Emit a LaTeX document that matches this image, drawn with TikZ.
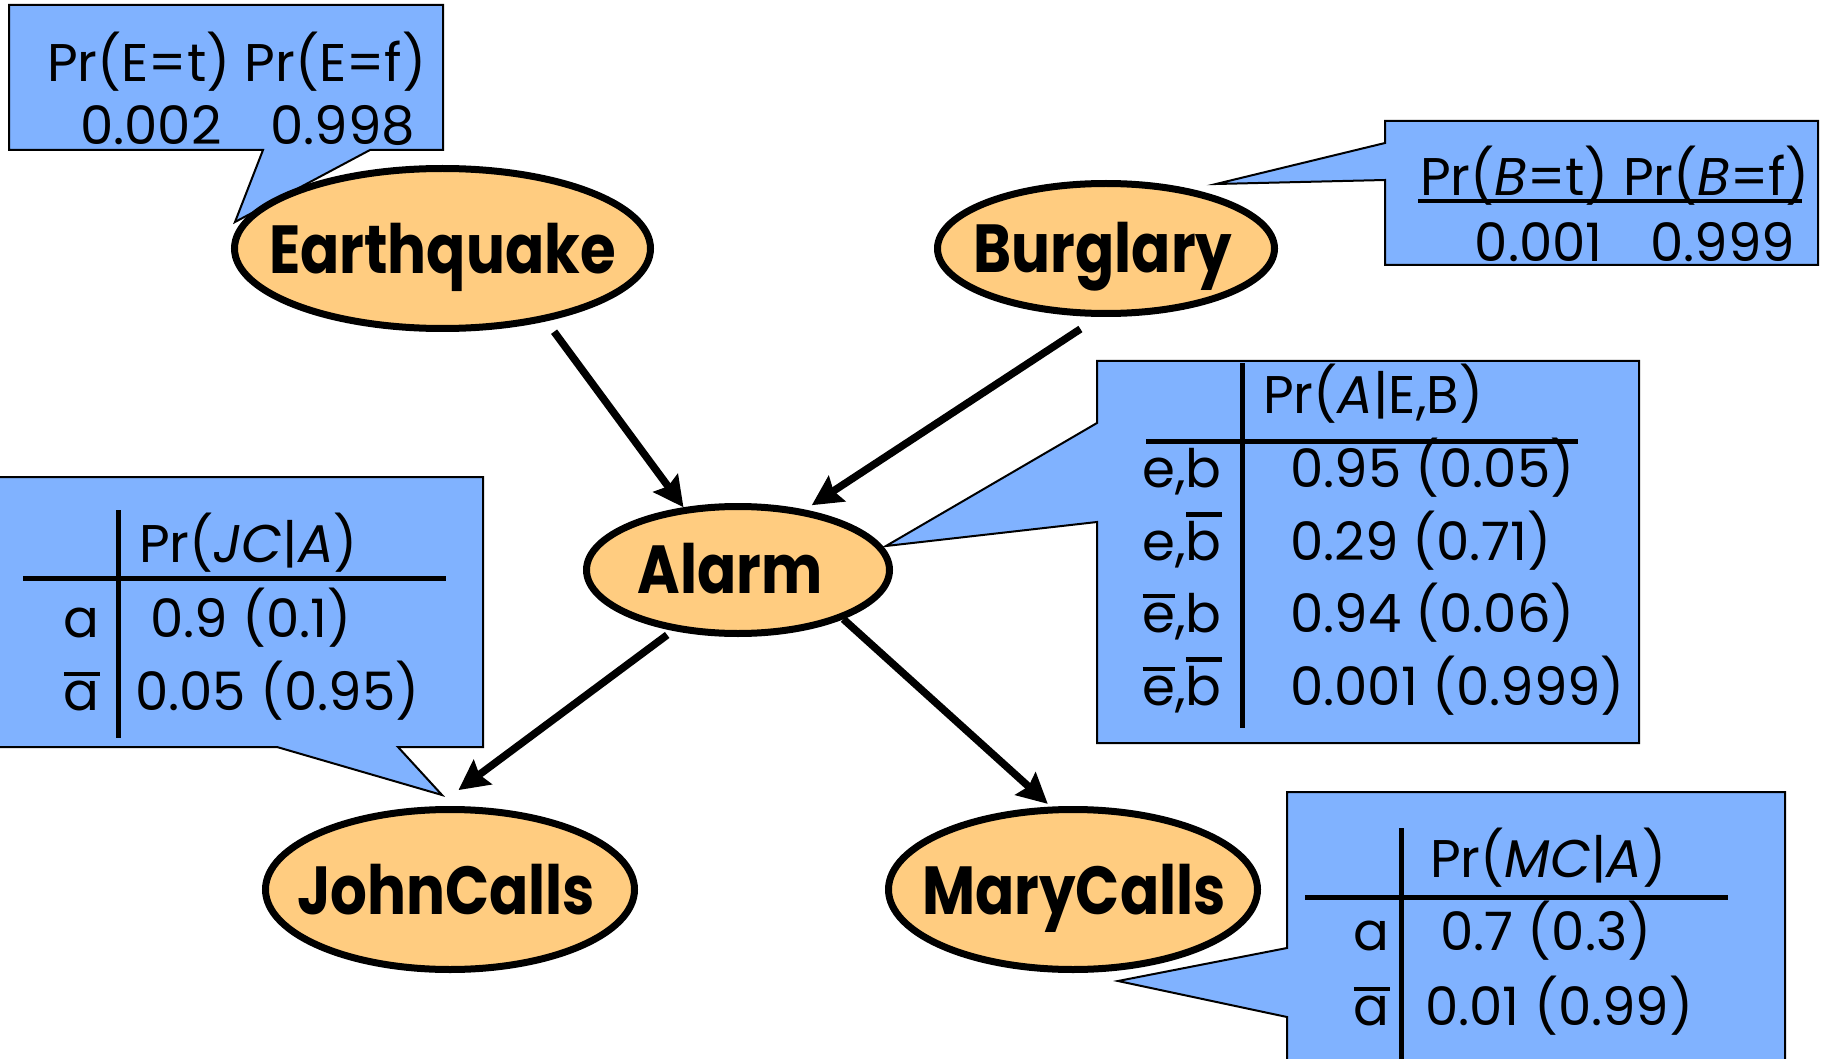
\documentclass[tikz,border=0pt]{standalone}
\usepackage{fontspec}
\setmainfont{Poppins}
\newfontfamily\lblfont[FakeStretch=0.85]{Poppins}
\usetikzlibrary{shapes.geometric,arrows.meta}
\definecolor{cptblue}{RGB}{128,178,255}
\definecolor{nodeorange}{RGB}{255,204,128}
\newcommand\ovl[1]{\begingroup\setbox0\hbox{#1}\rlap{\raisebox{\dimexpr\ht0+4pt\relax}{\rule{\wd0}{4.5pt}}}\box0\endgroup}
\begin{document}
\begin{tikzpicture}[x=1pt,y=-1pt,
  rv/.style={ellipse, draw=black, line width=7pt, fill=nodeorange, inner sep=0pt},
  rvlabel/.style={inner sep=0pt, anchor=base, font=\lblfont\bfseries\fontsize{68}{72}\selectfont},
  cpt/.style={fill=cptblue, draw=black, line width=2pt, line join=miter},
  txt/.style={inner sep=0pt, font=\fontsize{53}{58}\selectfont},
  tabline/.style={line width=5pt},
  arr/.style={line width=7.5pt, -{Stealth[length=30pt,width=30pt,inset=4pt]}}]
\useasboundingbox (0,0) rectangle (1821,1059);
\clip (0,0) rectangle (1821,1059);

% callout boxes
\draw[cpt] (9,5) -- (443,5) -- (443,150) -- (370,150) -- (235,222) -- (263,150) -- (9,150) -- cycle;
\draw[cpt] (1385,121) -- (1818,121) -- (1818,265) -- (1385,265) -- (1385,180) -- (1216,184) -- (1385,143) -- cycle;
\draw[cpt] (1097,361) -- (1639,361) -- (1639,743) -- (1097,743) -- (1097,522) -- (886,546) -- (1097,423) -- cycle;
\draw[cpt] (-5,477) -- (483,477) -- (483,747) -- (398,747) -- (442,795) -- (277,747) -- (-5,747) -- cycle;
\draw[cpt] (1287,792) -- (1785,792) -- (1785,1075) -- (1287,1075) -- (1287,1017) -- (1118,981) -- (1287,948) -- cycle;

% Earthquake CPT
\node[txt, anchor=base west] (eqh) at (47,82) {Pr(E=t) Pr(E=f)};
\node[txt, anchor=base west] (eqt) at (80,145) {0.002};
\node[txt, anchor=base west] (eqf) at (270,145) {0.998};

% Burglary CPT
\node[txt, anchor=base west] (buh) at (1420,196) {Pr(\textit{B}=t) Pr(\textit{B}=f)};
\draw[line width=4.5pt] (1418,201) -- (1802,201);
\node[txt, anchor=base east] (but) at (1603,262) {0.001};
\node[txt, anchor=base east] (buf) at (1795,262) {0.999};

% Alarm CPT
\draw[tabline] (1242,363) -- (1242,728);
\draw[tabline] (1146,441) -- (1578,441);
\node[txt, anchor=base west] (alh) at (1263,413) {Pr(\textit{A}|E,B)};
\node[txt, anchor=base east] (alr1) at (1222,487) {e,b};
\node[txt, anchor=base east] (alr2) at (1222,560) {e,\ovl{b}};
\node[txt, anchor=base east] (alr3) at (1222,632) {\ovl{e},b};
\node[txt, anchor=base east] (alr4) at (1222,705) {\ovl{e},\ovl{b}};
\node[txt, anchor=base west] (alv1) at (1290,487) {0.95 (0.05)};
\node[txt, anchor=base west] (alv2) at (1290,560) {0.29 (0.71)};
\node[txt, anchor=base west] (alv3) at (1290,632) {0.94 (0.06)};
\node[txt, anchor=base west] (alv4) at (1290,705) {0.001 (0.999)};

% JohnCalls CPT
\draw[tabline] (118,510) -- (118,738);
\draw[tabline] (23,578) -- (446,578);
\node[txt, anchor=base west] (jch) at (139,562) {Pr(\textit{JC}|\textit{A})};
\node[txt, anchor=base east] (jcr1) at (100,637) {a};
\node[txt, anchor=base east] (jcr2) at (100,710) {\ovl{a}};
\node[txt, anchor=base west] (jcv1) at (150,637) {0.9 (0.1)};
\node[txt, anchor=base west] (jcv2) at (135,710) {0.05 (0.95)};

% MaryCalls CPT
\draw[tabline] (1401,828) -- (1401,1070);
\draw[tabline] (1305,897) -- (1728,897);
\node[txt, anchor=base west] (mch) at (1430,877) {Pr(\textit{MC}|\textit{A})};
\node[txt, anchor=base east] (mcr1) at (1390,950) {a};
\node[txt, anchor=base east] (mcr2) at (1390,1025) {\ovl{a}};
\node[txt, anchor=base west] (mcv1) at (1440,950) {0.7 (0.3)};
\node[txt, anchor=base west] (mcv2) at (1425,1025) {0.01 (0.99)};

% variables
\node[rv, minimum width=416, minimum height=160] (eq) at (442.5,248.5) {};
\node[rv, minimum width=337, minimum height=130] (bu) at (1106,248.5) {};
\node[rv, minimum width=303, minimum height=127] (alarm) at (738,570) {};
\node[rv, minimum width=369, minimum height=160] (jc) at (450,889.5) {};
\node[rv, minimum width=369, minimum height=160] (mc) at (1073,889.5) {};

\node[rvlabel] (eql) at (442.5,274) {Earthquake};
\node[rvlabel] (bul) at (1103,273) {Burglary};
\node[rvlabel] (all) at (730,593) {Alarm};
\node[rvlabel] (jcl) at (446,914) {JohnCalls};
\node[rvlabel] (mcl) at (1074,914) {MaryCalls};

% arcs
\draw[arr, shorten <=13pt] (eq.-35) -- (alarm.131);
\draw[arr, shorten <=22pt, shorten >=8pt] (bu.-96) -- (alarm.42);
\draw[arr, shorten <=7pt, shorten >=27pt] (alarm.-137) -- (jc.99);
\draw[arr, shorten >=4pt] (alarm.-25) -- (mc.105);
\end{tikzpicture}
\end{document}
